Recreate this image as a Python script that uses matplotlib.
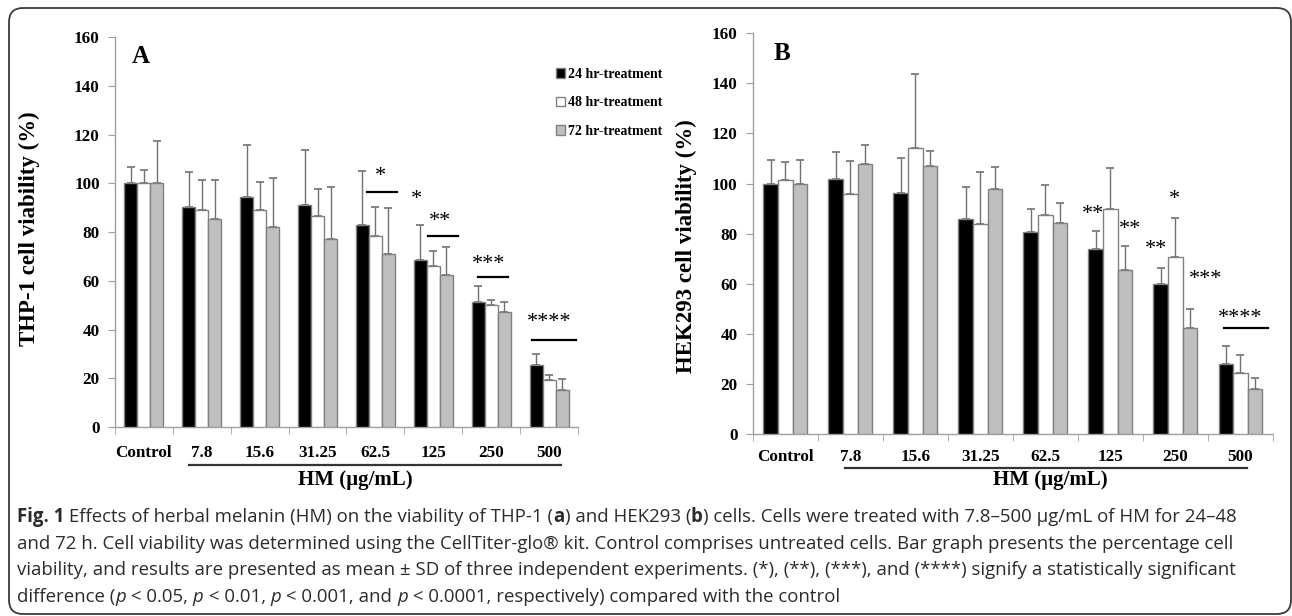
import numpy as np
import matplotlib.pyplot as plt
from matplotlib.patches import Patch, FancyBboxPatch
from matplotlib.font_manager import FontProperties
from matplotlib.transforms import IdentityTransform, blended_transform_factory

# doses on the x axis
doses = ["Control", "7.8", "15.6", "31.25", "62.5", "125", "250", "500"]
series_names = ["24 hr-treatment", "48 hr-treatment", "72 hr-treatment"]

# panel A: THP-1 (mean and SD, %)
thp_24 = [100, 90.4, 94.5, 91.0, 83.0, 68.5, 51.2, 25.6]
thp_24_sd = [6.8, 14.3, 21.4, 22.8, 22.2, 14.5, 6.8, 4.5]
thp_48 = [100, 89.1, 89.1, 86.6, 78.4, 66.3, 50.2, 19.4]
thp_48_sd = [5.7, 12.5, 11.6, 11.2, 11.8, 5.9, 1.9, 2.1]
thp_72 = [100, 85.2, 82.2, 77.2, 71.1, 62.4, 47.1, 15.0]
thp_72_sd = [17.5, 16.4, 20.1, 21.3, 18.8, 11.5, 4.3, 4.7]

# panel B: HEK293
hek_24 = [100, 101.9, 96.4, 86.0, 80.6, 73.8, 59.8, 28.0]
hek_24_sd = [9.4, 10.6, 13.9, 12.5, 9.3, 7.3, 6.6, 7.3]
hek_48 = [101.5, 96.0, 114.2, 84.0, 87.5, 89.9, 70.7, 24.2]
hek_48_sd = [7.2, 12.9, 29.6, 20.7, 12.1, 16.4, 15.6, 7.5]
hek_72 = [100, 108.0, 107.2, 97.9, 84.4, 65.6, 42.2, 17.8]
hek_72_sd = [9.4, 7.2, 5.7, 8.9, 8.0, 9.4, 7.9, 4.6]

# significance marks (x in category units, y in %)
thp_stars = [(4.08, 105.5, "*"), (4.71, 95.9, "*"), (5.11, 87.0, "**"),
             (5.96, 69.1, "***"), (7.01, 45.3, "****")]
thp_lines = [(3.86, 4.37, 96.4), (4.91, 5.42, 78.3), (5.77, 6.29, 61.7), (6.71, 7.47, 35.6)]
hek_stars = [(4.74, 90.1, "**"), (5.30, 84.2, "**"), (5.70, 76.2, "**"),
             (5.99, 96.1, "*"), (6.46, 64.2, "***"), (7.0, 48.5, "****")]
hek_lines = [(6.74, 7.43, 42.2)]

W, H = 1292, 616
SERIF = "Liberation Serif"
bar_colors = ["black", "white", "#bfbfbf"]
edge = "#808080"
axis_gray = "#a0a0a0"

fig = plt.figure(figsize=(W / 100, H / 100), dpi=100)
fig.patch.set_facecolor("white")


def px_axes(left, top, right, bottom):
    return fig.add_axes([left / W, 1 - bottom / H, (right - left) / W, (bottom - top) / H])


def panel(ax, means, sds, stars, lines, ylabel, letter, label_pad, yl_pos,
          uline, hm_pos):
    x = np.arange(len(doses))
    w = 0.225
    for i, (m, s) in enumerate(zip(means, sds)):
        ax.bar(x + (i - 1) * w, m, w, yerr=[np.zeros(len(s)), s],
               color=bar_colors[i], edgecolor=edge, linewidth=1, zorder=3,
               error_kw=dict(ecolor="#707070", elinewidth=1, capsize=3, capthick=1.2, zorder=2))
    ax.set_xlim(-0.5, 7.5)
    ax.set_ylim(0, 160)
    ax.set_yticks(np.arange(0, 161, 20))
    ax.set_xticks(x)
    ax.set_xticks(np.arange(-0.5, 8, 1), minor=True)
    ax.set_xticklabels(doses)
    for sp in ["top", "right"]:
        ax.spines[sp].set_visible(False)
    for sp in ["left", "bottom"]:
        ax.spines[sp].set_color(axis_gray)
        ax.spines[sp].set_linewidth(1)
    ax.tick_params(axis="y", length=5, color=axis_gray, pad=6)
    ax.tick_params(axis="x", which="major", length=0, pad=label_pad)
    ax.tick_params(axis="x", which="minor", length=5, color=axis_gray)
    for t in ax.get_xticklabels() + ax.get_yticklabels():
        t.set_fontfamily(SERIF)
        t.set_fontweight("bold")
        t.set_fontsize(12.3)
    ax.set_ylabel(ylabel, fontfamily=SERIF, fontweight="bold", fontsize=16.5)
    ax.yaxis.set_label_coords(*yl_pos)
    ax.text(-0.05, 152, letter, fontfamily=SERIF, fontweight="bold", fontsize=18,
            ha="center", va="center")
    for sx, sy, s in stars:
        ax.annotate(s, (sx, sy), xytext=(0, -4.5), textcoords="offset points",
                    ha="center", va="center", fontfamily=SERIF, fontsize=16, zorder=2)
    for x0, x1, y in lines:
        ax.plot([x0, x1], [y, y], color="black", lw=1.6, zorder=4)
    tr = blended_transform_factory(ax.transData, ax.transAxes)
    ax.plot([uline[0], uline[1]], [uline[2], uline[2]], color="#333333", lw=1.6,
            transform=tr, clip_on=False)
    ax.text(hm_pos[0], hm_pos[1], "HM (µg/mL)", transform=tr, ha="center", va="center",
            fontfamily=SERIF, fontweight="bold", fontsize=15)


axA = px_axes(115, 37.3, 578, 427)
axB = px_axes(752.7, 33.3, 1273, 434)

panel(axA, [thp_24, thp_48, thp_72], [thp_24_sd, thp_48_sd, thp_72_sd], thp_stars, thp_lines,
      "THP-1 cell viability (%)", "A", 13, (-0.162, 0.51), (0.78, 7.2, -0.0985), (3.65, -0.136))
panel(axB, [hek_24, hek_48, hek_72], [hek_24_sd, hek_48_sd, hek_72_sd], hek_stars, hek_lines,
      "HEK293 cell viability (%)", "B", 11, (-0.107, 0.47), (0.92, 7.1, -0.0856), (4.07, -0.115))

handles = [Patch(facecolor=c, edgecolor=edge) for c in bar_colors]
axA.legend(handles, series_names, loc="upper left", bbox_to_anchor=(556 / W, 1 - 68 / H),
           bbox_transform=fig.transFigure, frameon=False, handlelength=0.65, handleheight=0.7,
           handletextpad=0.25, labelspacing=1.1, borderpad=0, borderaxespad=0,
           prop=FontProperties(family=SERIF, weight="bold", size=10))

# caption below the charts
renderer = fig.canvas.get_renderer()
cap_size = 13.4
cap_color = "#2b2b2b"


def run_line(runs, x_px, base_px):
    x = x_px
    for txt, weight, style in runs:
        fp = FontProperties(family="Open Sans", weight=weight, style=style, size=cap_size)
        fig.text(x / W, 1 - base_px / H, txt, fontproperties=fp, color=cap_color,
                 ha="left", va="baseline")
        w1 = renderer.get_text_width_height_descent("|" + txt + "|", fp, ismath=False)[0]
        w0 = renderer.get_text_width_height_descent("||", fp, ismath=False)[0]
        x += w1 - w0


N, B, I = "normal", "bold", "italic"
caption = [
    [("Fig. 1", B, N), (" Effects of herbal melanin (HM) on the viability of THP-1 (", N, N),
     ("a", B, N), (") and HEK293 (", N, N), ("b", B, N),
     (") cells. Cells were treated with 7.8–500 µg/mL of HM for 24–48", N, N)],
    [("and 72 h. Cell viability was determined using the CellTiter-glo® kit. Control comprises "
      "untreated cells. Bar graph presents the percentage cell", N, N)],
    [("viability, and results are presented as mean ± SD of three independent experiments. "
      "(*), (**), (***), and (****) signify a statistically significant", N, N)],
    [("difference (", N, N), ("p", N, I), (" < 0.05, ", N, N), ("p", N, I), (" < 0.01, ", N, N),
     ("p", N, I), (" < 0.001, and ", N, N), ("p", N, I),
     (" < 0.0001, respectively) compared with the control", N, N)],
]
for k, line in enumerate(caption):
    run_line(line, 17, 522 + 26.7 * k)

frame = FancyBboxPatch((9, H - 614), 1282, 606, boxstyle="round,pad=0,rounding_size=14",
                       transform=IdentityTransform(), fill=False, edgecolor="#3a3a3a", lw=1.3)
fig.add_artist(frame)

fig.savefig("out.png", dpi=100)
